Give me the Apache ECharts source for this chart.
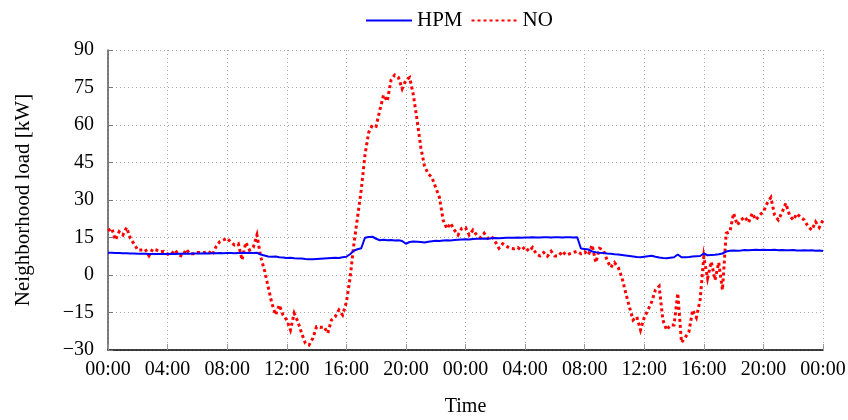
<html>
<head>
    <meta charset="utf-8">
    <title>Neighborhood load</title>
    <script src="https://cdn.jsdelivr.net/npm/echarts@6/dist/echarts.min.js"></script>
    <style type="text/css">
        body{margin:0;background:#fff;}
        #main{width:848px;height:420px;}
    </style>
</head>
<body>
    <div id="main"></div>
    <script type="text/javascript">
        // 15-minute samples over two days, hour 0 .. 48
        var stepHours = 0.25;
        var tickLabels = ['00:00','04:00','08:00','12:00','16:00','20:00','00:00','04:00','08:00','12:00','16:00','20:00','00:00'];

        var hpm = [
            8.9,8.9,8.8,8.8, 8.7,8.7,8.6,8.6, 8.5,8.5,8.5,8.4, 8.4,8.4,8.4,8.4,
            8.4,8.5,8.4,8.5, 8.5,8.6,8.5,8.6, 8.6,8.6,8.7,8.6, 8.7,8.7,8.8,8.7,
            8.8,8.8,8.7,8.8, 8.9,8.8,8.9,8.8, 8.9,8.2,7.8,7.4, 7.3,7.4,7.1,7.0,
            6.8,6.9,6.7,6.6, 6.6,6.4,6.3,6.3, 6.4,6.5,6.6,6.7, 6.8,6.9,6.8,7.1,
            7.3,8.3,9.7,10.3, 10.7,14.9,15.2,15.3, 14.5,13.9,14.1,13.9, 14.0,13.8,13.9,13.6,
            12.5,13.2,13.4,13.3, 13.2,13.0,13.3,13.5, 13.7,13.6,13.8,13.9, 13.8,14.0,14.1,14.2,
            14.3,14.2,14.4,14.5, 14.5,14.6,14.5,14.7, 14.8,14.7,14.8,14.9, 14.9,14.9,15.0,14.9,
            15.0,15.0,15.1,15.0, 15.0,15.1,15.1,15.0, 15.1,15.1,15.0,15.1, 15.1,15.0,15.1,10.6,
            10.4,10.2,9.4,9.1, 8.9,8.8,8.6,8.5, 8.3,8.2,8.0,7.8, 7.6,7.4,7.2,7.1,
            7.3,7.5,7.7,7.3, 7.0,6.8,6.7,6.9, 7.1,8.2,7.1,7.1, 7.2,7.4,7.5,7.6,
            8.6,7.9,8.0,8.1, 8.3,8.6,9.4,9.7, 9.8,9.7,9.8,10.0, 9.9,10.0,10.1,10.0,
            10.1,10.0,10.0,10.1, 9.9,10.0,9.9,9.9, 10.0,9.8,9.8,9.9, 9.8,9.9,9.7,9.8,
            9.6
        ];

        var no = [
            17.7,18.7,14,17.3, 16,19,14.7,12.4, 10,10,10.3,7.7, 10.4,10,9.3,9.5,
            8.3,8.3,10,8,7.6,10.3,8.5,8.5, 9,9,9,9.5, 8,11.3,13.3,14,
            14.7,13,12,12.5, 6,13,10,11, 16,7.3,2,-4.7, -11.3,-16,-12,-16,
            -18,-22,-15.3,-18.7, -23.3,-27.3,-28,-25.3, -20.7,-21,-20.7,-23.3, -18,-16.7,-14,-16,
            -11,-1.3,12,23, 34,48,57,60, 59.5,66,72,69.5, 78,80,79,74.5,
            78,79,72,62, 51,43.5,40.5,39, 35,31,22,18.5, 20.7,18,16,18.7,
            19,16,18,16, 15,16.7,14.7,15.5, 13.3,10.7,12.5,11.5, 10.7,10.5,11,10,
            11.3,9.5,11,8.5, 7.6,9,7.5,9.5, 7.6,7.6,9.5,8, 8.5,9,9.5,8.5,
            9.3,8,12,5, 10.7,10,6,3, 5,3,-1,-7, -12.7,-18,-16.7,-22,
            -17,-14,-10.7,-6, -4.5,-18,-22,-20, -20,-7.3,-27,-25, -22.7,-14,-17,-10,
            7.3,-1.3,5.3,-2, 5,-6,16.7,17.3, 24.7,20,22,23.3, 21,24.7,22,24,
            25.3,28.7,31,24, 22,25,28.7,24, 22,24.5,23,22, 19.3,18,21.3,19,
            22
        ];

        function pairs(values){
            var out = [];
            for (var i = 0; i < values.length; i++) {
                out.push([i * stepHours, values[i]]);
            }
            return out;
        }

        var serif = 'Liberation Serif';
        var chart = echarts.init(document.getElementById('main'));
        var option = {
            animation: false,
            textStyle: {fontFamily: serif},
            grid: {left: 108, right: 25, top: 50, bottom: 70, outerBoundsMode: 'none'},
            legend: {
                top: 5,
                left: 360,
                itemWidth: 46,
                itemHeight: 20,
                itemGap: 8,
                itemStyle: {opacity: 0},
                textStyle: {fontFamily: serif, fontSize: 21, color: '#000'},
                data: ['HPM', 'NO']
            },
            xAxis: {
                type: 'value',
                min: 0,
                max: 48,
                interval: 4,
                name: 'Time',
                nameLocation: 'middle',
                nameGap: 47,
                nameTextStyle: {fontFamily: serif, fontSize: 20, color: '#000'},
                axisLine: {onZero: false, lineStyle: {color: '#000', width: 1.5}},
                axisTick: {inside: true, length: 6, lineStyle: {color: '#999'}},
                axisLabel: {
                    fontFamily: serif, fontSize: 20, color: '#000', margin: 10,
                    formatter: function (v) { return tickLabels[Math.round(v / 4)]; }
                },
                splitLine: {show: true, lineStyle: {color: '#aaa', type: [1, 3]}}
            },
            yAxis: {
                type: 'value',
                min: -30,
                max: 90,
                interval: 15,
                name: 'Neighborhood load [kW]',
                nameLocation: 'middle',
                nameGap: 74,
                nameTextStyle: {fontFamily: serif, fontSize: 21, color: '#000'},
                axisLine: {show: true, lineStyle: {color: '#555', width: 1.5}},
                axisTick: {show: true, inside: true, length: 5, lineStyle: {color: '#777'}},
                axisLabel: {
                    fontFamily: serif, fontSize: 20, color: '#000', margin: 14,
                    formatter: function (v) { return String(v).replace('-', '\u2212'); }
                },
                splitLine: {show: true, lineStyle: {color: '#aaa', type: [1, 3]}}
            },
            series: [
                {
                    name: 'HPM',
                    type: 'line',
                    symbol: 'none',
                    color: '#0000ff',
                    lineStyle: {color: '#0000ff', width: 2},
                    data: pairs(hpm),
                    z: 3
                },
                {
                    name: 'NO',
                    type: 'line',
                    symbol: 'none',
                    color: '#ff0000',
                    lineStyle: {color: '#ff0000', width: 3, type: [3, 3], join: 'miter', miterLimit: 10},
                    data: pairs(no),
                    z: 2
                }
            ]
        };
        chart.setOption(option);
    </script>
</body>
</html>
